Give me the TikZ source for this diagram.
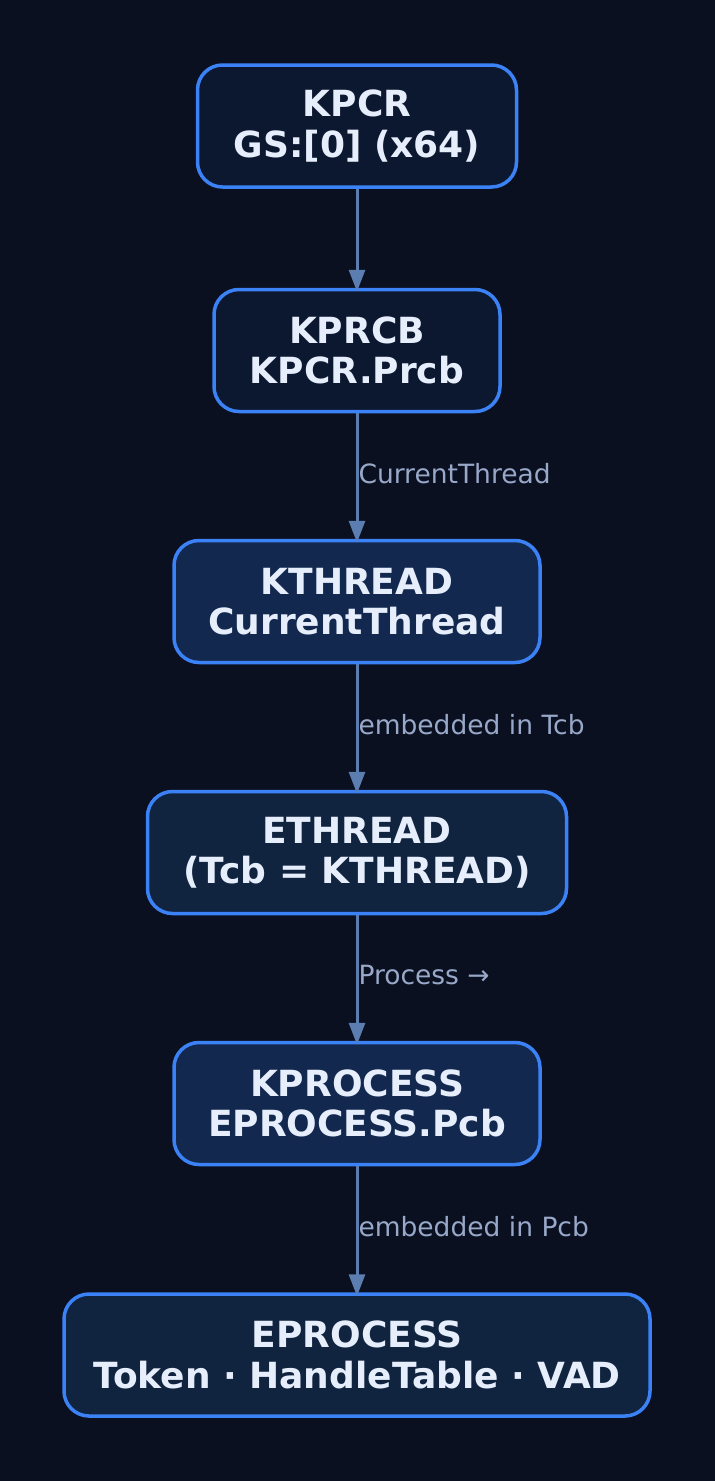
\documentclass[tikz,border=0pt]{standalone}
\usepackage{fontspec}
\setmainfont{DejaVu Sans}
\usetikzlibrary{arrows.meta}
\definecolor{bg}{HTML}{0A1020}
\definecolor{fillA}{HTML}{0C1730}
\definecolor{fillB}{HTML}{13284F}
\definecolor{fillC}{HTML}{10233F}
\definecolor{edge}{HTML}{3B82F6}
\definecolor{txt}{HTML}{E6EEFC}
\definecolor{arr}{HTML}{5B7DB0}
\definecolor{lbl}{HTML}{98A8C8}
\tikzset{
  x=1pt,y=-1pt,
  box/.style={draw=edge, line width=3.5pt, rounded corners=25pt, text=txt,
    font=\fontsize{36}{40.5}\selectfont\bfseries, align=center, inner sep=0pt,
    minimum height=122pt},
  conn/.style={draw=arr, line width=3pt, shorten >=-4pt, -{Triangle[length=22pt,width=16pt]}},
  elabel/.style={text=lbl, font=\fontsize{26.5}{30}\selectfont, anchor=west, inner sep=0pt}
}
\begin{document}
\begin{tikzpicture}
\fill[bg] (0,0) rectangle (715,1481);
\useasboundingbox (0,0) rectangle (715,1481);
\node[box, fill=fillA, minimum width=319pt] (kpcr) at (357,126) {KPCR\\GS:[0] (x64)};
\node[box, fill=fillA, minimum width=286pt] (kprcb) at (357,350.5) {KPRCB\\KPCR.Prcb};
\node[box, fill=fillB, minimum width=366pt] (kthread) at (357,601.5) {KTHREAD\\CurrentThread};
\node[box, fill=fillC, minimum width=419pt] (ethread) at (357,852.5) {ETHREAD\\(Tcb = KTHREAD)};
\node[box, fill=fillB, minimum width=366pt] (kprocess) at (357,1103.5) {KPROCESS\\EPROCESS.Pcb};
\node[box, fill=fillC, minimum width=586pt] (eprocess) at (357,1355) {EPROCESS\\Token · HandleTable · VAD};
\draw[conn] (kpcr.south) -- (kprcb.north);
\draw[conn] (kprcb.south) -- node[elabel, pos=0.48] (l1) {CurrentThread} (kthread.north);
\draw[conn] (kthread.south) -- node[elabel, pos=0.48] (l2) {embedded in Tcb} (ethread.north);
\draw[conn] (ethread.south) -- node[elabel, pos=0.48] (l3) {Process →} (kprocess.north);
\draw[conn] (kprocess.south) -- node[elabel, pos=0.48] (l4) {embedded in Pcb} (eprocess.north);
\end{tikzpicture}
\end{document}
